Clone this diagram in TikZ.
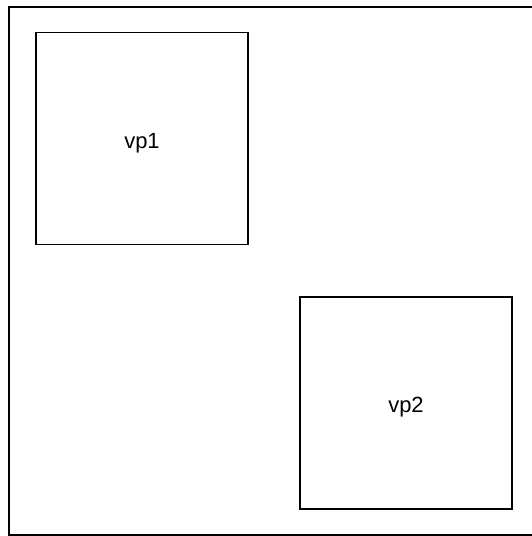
\documentclass[tikz,border=0pt]{standalone}
\usepackage{fontspec}
\setmainfont{Liberation Sans}
\usetikzlibrary{positioning}
\tikzset{
  port/.style={draw, line width=1.2pt, minimum width=212pt, minimum height=212pt, inner sep=0pt,
    text height=23.5pt, text depth=4.5pt, font=\fontsize{22}{26}\selectfont},
}

\begin{document}
\begin{tikzpicture}[x=1pt, y=-1pt]
        \useasboundingbox (0,0) rectangle (531,536);
        % outer window
        \draw[line width=1.2pt] (9,7) rectangle (540,535);
        % the two viewports
        \node[port] (vpone) at (142,138.5) {vp1};
        \node[port] (vptwo) at (406,403) {vp2};
      \end{tikzpicture}
\end{document}
